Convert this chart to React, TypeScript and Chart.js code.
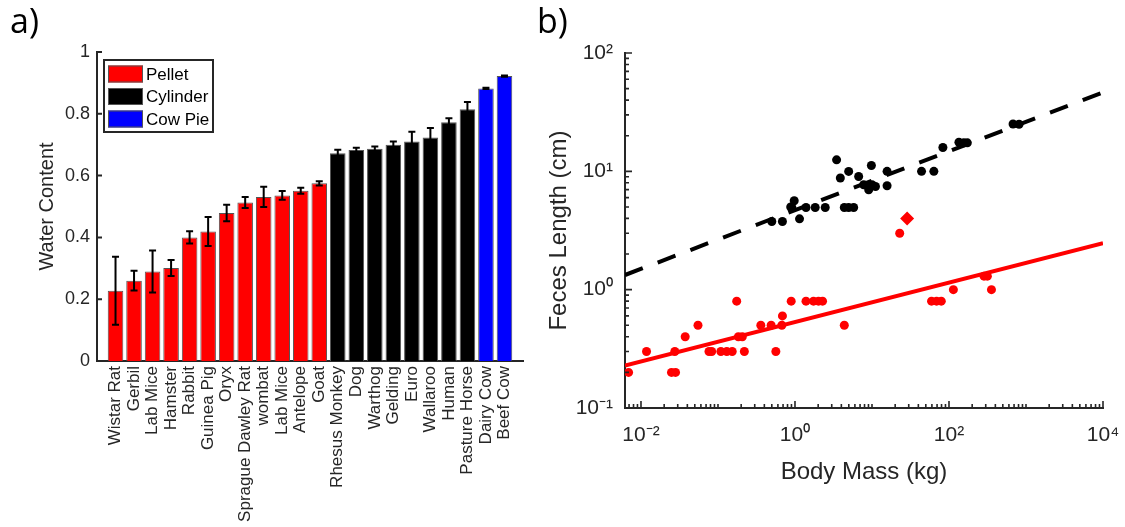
import React, { useEffect, useRef } from 'react';
import { Chart, registerables } from 'chart.js';

Chart.register(...registerables);

// ---------- Panel a data ----------
const animals = [
  'Wistar Rat', 'Gerbil', 'Lab Mice', 'Hamster', 'Rabbit', 'Guinea Pig', 'Oryx',
  'Sprague Dawley Rat', 'wombat', 'Lab Mice', 'Antelope', 'Goat',
  'Rhesus Monkey', 'Dog', 'Warthog', 'Gelding', 'Euro', 'Wallaroo', 'Human', 'Pasture Horse',
  'Dairy Cow', 'Beef Cow',
];
const waterContent = [
  0.227, 0.26, 0.29, 0.301, 0.40, 0.419, 0.479, 0.513, 0.531, 0.536, 0.551, 0.575,
  0.672, 0.683, 0.687, 0.70, 0.71, 0.723, 0.773, 0.815,
  0.882, 0.922,
];
const waterError = [
  0.11, 0.032, 0.068, 0.026, 0.02, 0.047, 0.027, 0.018, 0.033, 0.014, 0.01, 0.007,
  0.012, 0.007, 0.007, 0.01, 0.032, 0.031, 0.013, 0.023,
  0.002, 0.002,
];
const fecesShape = [
  'Pellet', 'Pellet', 'Pellet', 'Pellet', 'Pellet', 'Pellet', 'Pellet', 'Pellet', 'Pellet', 'Pellet', 'Pellet', 'Pellet',
  'Cylinder', 'Cylinder', 'Cylinder', 'Cylinder', 'Cylinder', 'Cylinder', 'Cylinder', 'Cylinder',
  'Cow Pie', 'Cow Pie',
];
const shapeNames = ['Pellet', 'Cylinder', 'Cow Pie'];
const shapeColors = ['#ff0000', '#000000', '#0000ff'];
const waterTicks = [0, 0.2, 0.4, 0.6, 0.8, 1];
const waterTickLabels = ['0', '0.2', '0.4', '0.6', '0.8', '1'];

// ---------- Panel b data ----------
const cylinderMass = [
  0.50, 0.687, 0.88, 0.91, 0.977, 1.145, 1.39, 1.83, 2.47, 3.47, 3.88, 4.98, 4.37, 4.98, 5.78,
  6.71, 7.8, 9.06, 10.0, 11.1, 9.82, 15.7, 15.7, 44, 63.6, 83.3, 134.6, 156, 173, 679, 813,
];
const cylinderLength = [
  3.77, 3.77, 5.0, 4.95, 5.64, 3.97, 4.95, 4.95, 4.95, 12.5, 8.78, 9.98, 4.95, 4.95, 4.95,
  9.05, 7.7, 6.99, 7.7, 7.45, 11.2, 10.0, 7.55, 10.0, 10.0, 15.9, 17.6, 17.4, 17.4, 25.1, 25.0,
];
const pelletMass = [
  0.0069, 0.0118, 0.0249, 0.0281, 0.0275, 0.0375, 0.055, 0.0764, 0.0828, 0.109,
  0.130, 0.153, 0.175, 0.184, 0.207, 0.220, 0.36, 0.49, 0.564, 0.687,
  0.675, 0.893, 1.39, 1.74, 2.02, 2.28, 4.37, 22.9, 59.3, 69,
  79.4, 114, 285, 315, 356,
];
const pelletLength = [
  0.2, 0.3, 0.2, 0.2, 0.3, 0.4, 0.5, 0.3, 0.3, 0.3,
  0.3, 0.3, 0.8, 0.4, 0.4, 0.3, 0.5, 0.5, 0.3, 0.6,
  0.5, 0.8, 0.8, 0.8, 0.8, 0.8, 0.5, 3.0, 0.8, 0.8,
  0.8, 1.0, 1.3, 1.3, 1.0,
];
const diamondMass = [28.6];
const diamondLength = [4.0];
const fitMass = [0.0062, 10000];
const cylinderFit = [1.33, 46.5];
const pelletFit = [0.228, 2.47];

const massTickValues = [0.01, 1, 100, 10000];
const massTickLabels = ['10⁻²', '10⁰', '10²', '10⁴'];
const lengthTickValues = [0.1, 1, 10, 100];
const lengthTickLabels = ['10⁻¹', '10⁰', '10¹', '10²'];

const FONT = "'Liberation Sans', Arial, sans-serif";
const AXIS = '#262626';

const pts = (xs: number[], ys: number[]) => xs.map((x, i) => ({ x, y: ys[i] }));

const fixH = (h: number) => (s: any) => { s.height = h; s.paddingLeft = 0; s.paddingRight = 0; };
const fixW = (w: number) => (s: any) => { s.width = w; s.paddingTop = 0; s.paddingBottom = 0; };

export default function App() {
  const refA = useRef<HTMLCanvasElement>(null);
  const refB = useRef<HTMLCanvasElement>(null);

  useEffect(() => {
    // ----- panel a plugins -----
    const errorBars = {
      id: 'errorBars',
      afterDatasetsDraw(chart: any) {
        const { ctx, scales } = chart;
        const x = scales.x, y = scales.y;
        ctx.save();
        ctx.strokeStyle = '#000';
        ctx.lineWidth = 2;
        waterContent.forEach((v, i) => {
          const px = x.getPixelForValue(i + 1);
          const top = y.getPixelForValue(v + waterError[i]);
          const bot = y.getPixelForValue(v - waterError[i]);
          ctx.beginPath();
          ctx.moveTo(px, top); ctx.lineTo(px, bot);
          ctx.moveTo(px - 3.5, top); ctx.lineTo(px + 3.5, top);
          ctx.moveTo(px - 3.5, bot); ctx.lineTo(px + 3.5, bot);
          ctx.stroke();
        });
        ctx.restore();
      },
    };
    const extrasA = {
      id: 'extrasA',
      afterDraw(chart: any) {
        const { ctx, chartArea: ca, scales } = chart;
        const y = scales.y;
        ctx.save();
        // inward y ticks
        ctx.strokeStyle = AXIS;
        ctx.lineWidth = 2;
        ctx.beginPath();
        waterTicks.forEach((t) => {
          const p = y.getPixelForValue(t);
          ctx.moveTo(ca.left, p); ctx.lineTo(ca.left + 5, p);
        });
        ctx.stroke();
        // legend
        const bx = ca.left + 7, by = ca.top + 8, bw = 109, bh = 72;
        ctx.fillStyle = '#fff';
        ctx.fillRect(bx, by, bw, bh);
        ctx.lineWidth = 2;
        ctx.strokeStyle = AXIS;
        ctx.strokeRect(bx, by, bw, bh);
        ctx.font = `17px ${FONT}`;
        ctx.textBaseline = 'middle';
        shapeNames.forEach((name, i) => {
          const cy = by + 14 + i * 22.5;
          ctx.fillStyle = shapeColors[i];
          ctx.fillRect(bx + 4, cy - 8.5, 35, 17);
          ctx.lineWidth = 1;
          ctx.strokeStyle = '#555';
          ctx.strokeRect(bx + 4.5, cy - 8, 34, 16);
          ctx.fillStyle = '#000';
          ctx.fillText(name, bx + 42, cy + 1);
        });
        // panel label
        ctx.font = "34px 'Open Sans', sans-serif";
        ctx.fillStyle = '#000';
        ctx.textBaseline = 'alphabetic';
        ctx.fillText('a)', 10, 33);
        ctx.restore();
      },
    };

    const labelsA = ['', ...animals, ''];
    const dataA = [null, ...waterContent, null];
    const colorsA = ['rgba(0,0,0,0)', ...fecesShape.map((s) => shapeColors[shapeNames.indexOf(s)]), 'rgba(0,0,0,0)'];

    const chartA = new Chart(refA.current as HTMLCanvasElement, {
      type: 'bar',
      data: {
        labels: labelsA,
        datasets: [{
          data: dataA as any,
          backgroundColor: colorsA,
          borderColor: '#555555',
          borderWidth: 1,
          barPercentage: 0.84,
          categoryPercentage: 1,
        }],
      },
      options: {
        responsive: false,
        animation: false,
        layout: { padding: { left: 0, top: 52, right: 17, bottom: 0 } },
        plugins: { legend: { display: false }, tooltip: { enabled: false } },
        scales: {
          x: {
            offset: false,
            grid: { display: false, drawTicks: false },
            border: { display: true, color: AXIS, width: 2 },
            ticks: {
              autoSkip: false, maxRotation: 90, minRotation: 90, padding: 5,
              color: AXIS, font: { family: FONT, size: 17 },
            },
            afterFit: fixH(166),
          },
          y: {
            min: 0, max: 1,
            grid: { display: false, drawTicks: false },
            border: { display: true, color: AXIS, width: 2 },
            afterBuildTicks: (s: any) => { s.ticks = waterTicks.map((v) => ({ value: v })); },
            ticks: {
              padding: 7, color: AXIS, font: { family: FONT, size: 18 },
              callback: (_v: any, i: number) => waterTickLabels[i],
            },
            title: {
              display: true, text: 'Water Content', color: AXIS,
              font: { family: FONT, size: 20 }, padding: { top: 35, bottom: 0 },
            },
            afterFit: fixW(97),
          },
        },
      },
      plugins: [errorBars, extrasA],
    } as any);

    // ----- panel b -----
    const extrasB = {
      id: 'extrasB',
      afterDraw(chart: any) {
        const { ctx, chartArea: ca, scales } = chart;
        const x = scales.x, y = scales.y;
        ctx.save();
        ctx.strokeStyle = AXIS;
        ctx.lineWidth = 1.6;
        const each = (scale: any, labeled: number[], fn: (p: number, major: boolean) => void) => {
          const lo = Math.floor(Math.log10(scale.min));
          const hi = Math.ceil(Math.log10(scale.max));
          for (let d = lo; d <= hi; d++) {
            for (let k = 1; k <= 9; k++) {
              const v = k * Math.pow(10, d);
              if (v < scale.min * 0.999 || v > scale.max * 1.001) continue;
              const major = k === 1 && labeled.some((t) => Math.abs(Math.log10(t) - d) < 1e-9);
              fn(scale.getPixelForValue(v), major);
            }
          }
        };
        ctx.beginPath();
        each(x, massTickValues, (p, major) => { ctx.moveTo(p, ca.bottom); ctx.lineTo(p, ca.bottom - (major ? 7 : 4)); });
        each(y, lengthTickValues, (p, major) => { ctx.moveTo(ca.left, p); ctx.lineTo(ca.left + (major ? 7 : 4), p); });
        ctx.stroke();
        ctx.font = "34px 'Open Sans', sans-serif";
        ctx.fillStyle = '#000';
        ctx.textBaseline = 'alphabetic';
        ctx.fillText('b)', 7, 33);
        ctx.restore();
      },
    };

    const chartB = new Chart(refB.current as HTMLCanvasElement, {
      type: 'scatter',
      data: {
        datasets: [
          {
            type: 'line', data: pts(fitMass, cylinderFit), borderColor: '#000', borderWidth: 4,
            borderDash: [19, 16], pointRadius: 0, fill: false, order: 0,
          },
          {
            type: 'line', data: pts(fitMass, pelletFit), borderColor: '#ff0000', borderWidth: 4,
            pointRadius: 0, fill: false, order: 0,
          },
          {
            data: pts(cylinderMass, cylinderLength), backgroundColor: '#000', borderWidth: 0,
            pointRadius: 4.5, order: 1,
          },
          {
            data: pts(pelletMass, pelletLength), backgroundColor: '#ff0000', borderWidth: 0,
            pointRadius: 4.5, order: 1,
          },
          {
            data: pts(diamondMass, diamondLength), backgroundColor: '#ff0000', borderWidth: 0,
            pointStyle: 'rectRot', pointRadius: 7, order: 1,
          },
        ],
      },
      options: {
        responsive: false,
        animation: false,
        layout: { padding: { left: 0, top: 53, right: 22, bottom: 0 } },
        plugins: { legend: { display: false }, tooltip: { enabled: false } },
        scales: {
          x: {
            type: 'logarithmic', min: 0.0062, max: 10000, bounds: 'data',
            grid: { display: false, drawTicks: false },
            border: { display: true, color: AXIS, width: 2 },
            afterBuildTicks: (s: any) => { s.ticks = massTickValues.map((v) => ({ value: v })); },
            ticks: {
              autoSkip: false, maxRotation: 0, padding: 15, color: AXIS,
              font: { family: FONT, size: 21 },
              callback: (_v: any, i: number) => massTickLabels[i],
            },
            title: {
              display: true, text: 'Body Mass (kg)', color: AXIS,
              font: { family: FONT, size: 24 }, padding: { top: 0, bottom: 40.6 },
            },
            afterFit: fixH(119),
          },
          y: {
            type: 'logarithmic', min: 0.1, max: 100, bounds: 'data',
            grid: { display: false, drawTicks: false },
            border: { display: true, color: AXIS, width: 2 },
            afterBuildTicks: (s: any) => { s.ticks = lengthTickValues.map((v) => ({ value: v })); },
            ticks: {
              autoSkip: false, padding: 12, color: AXIS,
              font: { family: FONT, size: 21 },
              callback: (_v: any, i: number) => lengthTickLabels[i],
            },
            title: {
              display: true, text: 'Feces Length (cm)', color: AXIS,
              font: { family: FONT, size: 24 }, padding: { top: 14.6, bottom: 0 },
            },
            afterFit: fixW(95),
          },
        },
      },
      plugins: [extrasB],
    } as any);

    return () => {
      chartA.destroy();
      chartB.destroy();
    };
  }, []);

  return (
    <div style={{ position: 'absolute', left: 0, top: 0, width: 1125, height: 527, background: '#fff', overflow: 'hidden' }}>
      <canvas ref={refA} width={540} height={527} style={{ position: 'absolute', left: 0, top: 0, width: 540, height: 527 }} />
      <canvas ref={refB} width={595} height={527} style={{ position: 'absolute', left: 530, top: 0, width: 595, height: 527 }} />
    </div>
  );
}
